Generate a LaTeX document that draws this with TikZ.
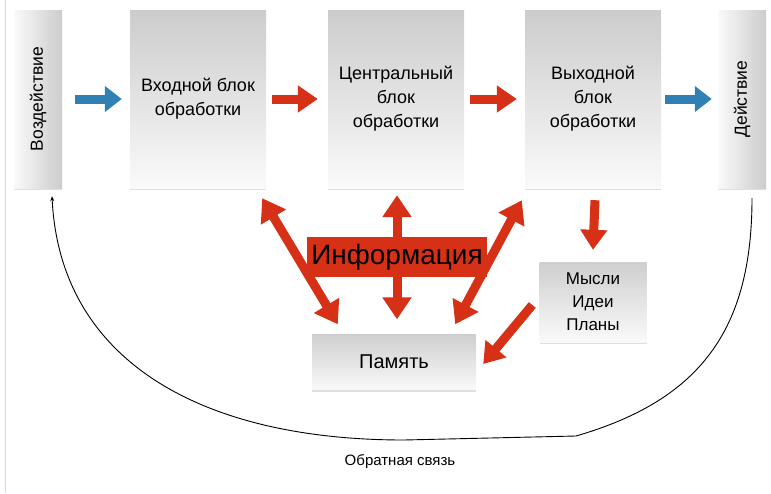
\documentclass[tikz,border=0pt]{standalone}
\usepackage{fontspec}
\setmainfont{Liberation Sans}
\usetikzlibrary{arrows.meta,shadows}
\definecolor{arrred}{RGB}{214,48,22}
\definecolor{arrblue}{RGB}{48,128,180}
\begin{document}
\begin{tikzpicture}[x=1pt,y=-1pt,
    block/.style={minimum width=136pt,minimum height=178pt,align=center,
        top color=gray!40,bottom color=gray!4,
        drop shadow={shadow xshift=0pt,shadow yshift=-2pt,opacity=0.25},
        font=\fontsize{18}{24}\selectfont},
    sidebox/.style={minimum width=48pt,minimum height=178pt,
        left color=gray!4,right color=gray!40,
        drop shadow={shadow xshift=0pt,shadow yshift=-2pt,opacity=0.25}},
    sidetext/.style={rotate=90,font=\fontsize{17.5}{20}\selectfont},
    smallbox/.style={align=center,top color=gray!38,bottom color=gray!4,
        drop shadow={shadow xshift=0pt,shadow yshift=-2pt,opacity=0.25}},
    redarr/.style={arrred,line width=9pt,-{Triangle[length=20pt,width=26pt]}},
    dblarr/.style={arrred,line width=9pt,
        {Triangle[length=22pt,width=28pt]}-{Triangle[length=22pt,width=28pt]}},
    bluearr/.style={arrblue,line width=9pt,-{Triangle[length=17pt,width=25pt]}}]
    \useasboundingbox (0,0) rectangle (771,493);
    \draw[gray!30] (5,0) -- (5,493);

    % blocks
    \node[sidebox] (infl) at (38,99) {};
    \node[sidetext] at (infl) {Воздействие};
    \node[block] (inp) at (198,99) {Входной блок\\обработки};
    \node[block] (cen) at (396,99) {Центральный\\блок\\обработки};
    \node[block] (outp) at (593,99) {Выходной\\блок\\обработки};
    \node[sidebox] (act) at (742,99) {};
    \node[sidetext] at (act) {Действие};
    \node[smallbox,minimum width=107pt,minimum height=80pt,
        font=\fontsize{17}{23}\selectfont] (idea) at (593,302) {Мысли\\Идеи\\Планы};
    \node[smallbox,minimum width=164pt,minimum height=55pt,
        font=\fontsize{20}{22}\selectfont] (mem) at (394,362) {Память};

    % arrows
    \draw[bluearr] ([xshift=13pt]infl.east) -- ([xshift=-8pt]inp.west);
    \draw[redarr] ([xshift=6pt]inp.east) -- ([xshift=-10pt]cen.west);
    \draw[redarr] ([xshift=6pt]cen.east) -- ([xshift=-8pt]outp.west);
    \draw[bluearr] ([xshift=4pt]outp.east) -- ([xshift=-6pt]act.west);
    \draw[redarr] ([xshift=2pt,yshift=-12pt]outp.south) -- ([yshift=12pt]idea.north);
    \draw[redarr] ([xshift=-7pt,yshift=-3pt]idea.west) -- ([xshift=7pt,yshift=-2pt]mem.east);
    \draw[dblarr] ([xshift=-4pt,yshift=-10pt]inp.south east) -- ([xshift=26pt,yshift=10pt]mem.north west);
    \draw[dblarr] ([xshift=1pt,yshift=-7pt]cen.south) -- ([xshift=3pt,yshift=15pt]mem.north);
    \draw[dblarr] ([xshift=-3pt,yshift=-12pt]outp.south west) -- ([xshift=-21pt,yshift=10pt]mem.north east);

    \node[fill=arrred,minimum width=180pt,minimum height=40pt,inner sep=0pt,
        font=\fontsize{28}{30}\selectfont] (info) at (397,257) {Информация};

    % feedback
    \draw[line width=0.9pt,-{Stealth[length=5pt,width=4pt]}] ([xshift=10pt,yshift=-10pt]act.south)
        .. controls (752,330) and (700,400) .. (576,436) -- (404,440)
        .. controls (200,440) and (60,360) .. ([xshift=14pt,yshift=-8pt]infl.south);
    \node[font=\fontsize{15}{17}\selectfont] (fb) at (400,462) {Обратная связь};
\end{tikzpicture}
\end{document}
